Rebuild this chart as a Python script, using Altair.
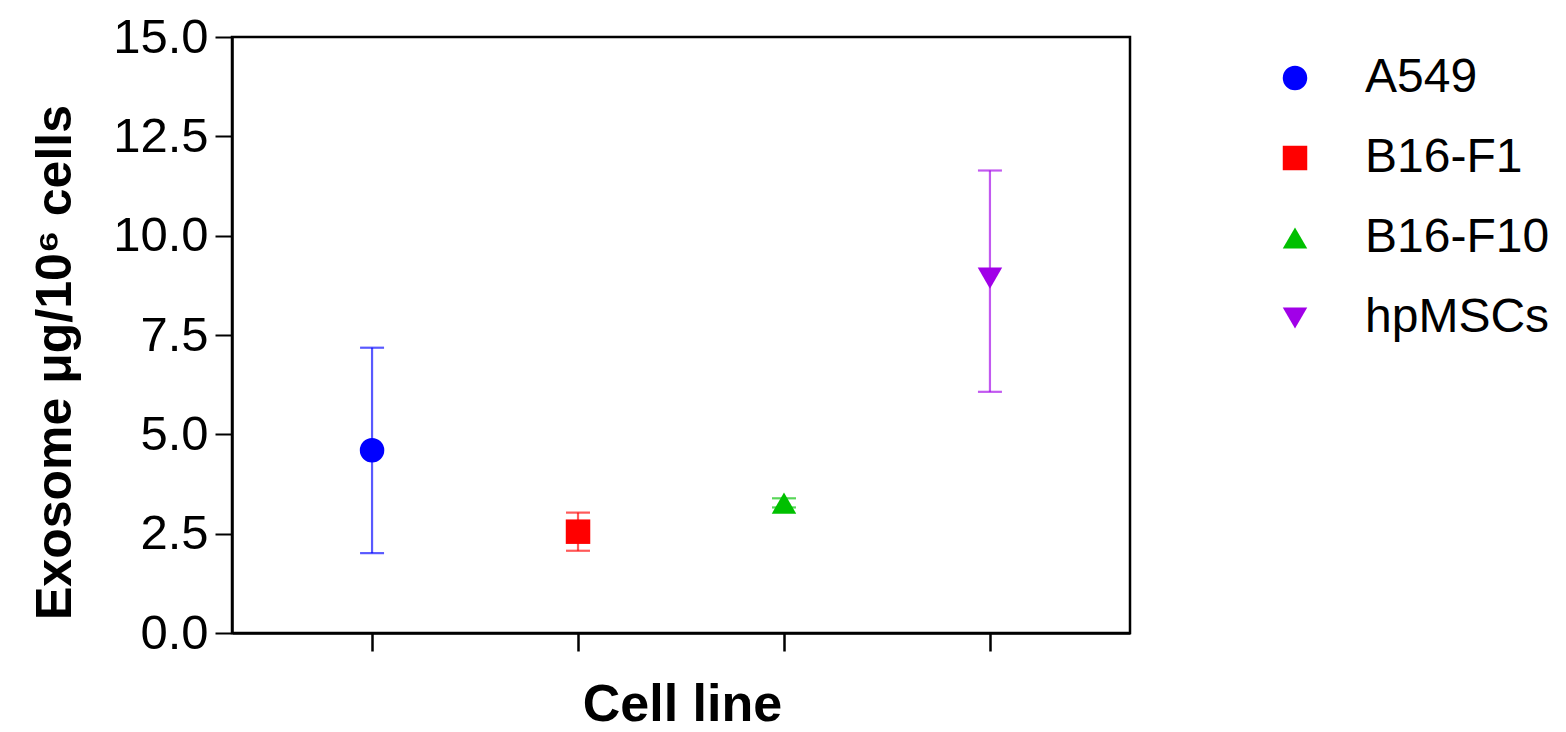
import altair as alt
import pandas as pd

cells = ["A549", "B16-F1", "B16-F10", "hpMSCs"]
means = [4.60, 2.55, 3.27, 8.93]
lows = [2.01, 2.07, 3.16, 6.07]
highs = [7.18, 3.03, 3.39, 11.64]
colors = ["#0000FF", "#FF0000", "#00C000", "#A100E8"]
shapes = ["circle", "square", "triangle-up", "triangle-down"]
y_ticks = [0, 2.5, 5, 7.5, 10, 12.5, 15]

df = pd.DataFrame({"cell": cells, "mean": means, "lo": lows, "hi": highs})

FONT = "Liberation Sans"

x_enc = alt.X(
    "cell:N",
    sort=cells,
    scale=alt.Scale(type="point", padding=0.68),
    axis=alt.Axis(
        labels=False,
        title="Cell line",
        titleFont=FONT,
        titleFontSize=52,
        titleFontWeight="bold",
        titleColor="black",
        titleX=450,
        titleY=87,
        titleBaseline="alphabetic",
        titleAlign="center",
        tickSize=18,
        tickWidth=2.5,
        tickColor="black",
        domainColor="black",
        domainWidth=2.5,
        grid=False,
    ),
)

y_scale = alt.Scale(domain=[0, 15], nice=False, zero=True)

color_enc = alt.Color(
    "cell:N",
    sort=cells,
    scale=alt.Scale(domain=cells, range=colors),
    legend=alt.Legend(
        title=None,
        orient="none",
        legendX=1039,
        legendY=17,
        padding=0,
        labelFont=FONT,
        labelFontSize=48,
        labelColor="black",
        labelOffset=46,
        labelLimit=400,
        rowPadding=32,
        symbolSize=600,
        symbolStrokeWidth=0,
        symbolOpacity=1,
    ),
)
shape_enc = alt.Shape(
    "cell:N",
    sort=cells,
    scale=alt.Scale(domain=cells, range=shapes),
)

base = alt.Chart(df)

rules = base.mark_rule(strokeWidth=2.2, opacity=0.65).encode(
    x=x_enc,
    y=alt.Y("lo:Q", scale=y_scale),
    y2="hi:Q",
    color=color_enc,
)

cap_lo = base.mark_tick(size=24, thickness=2.2, opacity=0.65).encode(
    x=x_enc,
    y=alt.Y("lo:Q", scale=y_scale),
    color=color_enc,
)
cap_hi = base.mark_tick(size=24, thickness=2.2, opacity=0.65).encode(
    x=x_enc,
    y=alt.Y("hi:Q", scale=y_scale),
    color=color_enc,
)

points = base.mark_point(filled=True, size=600, opacity=1, strokeWidth=0).encode(
    x=x_enc,
    y=alt.Y(
        "mean:Q",
        scale=y_scale,
        axis=alt.Axis(
            values=y_ticks,
            format=".1f",
            title="Exosome μg/10⁶ cells",
            titleFont=FONT,
            titleFontSize=50,
            titleFontWeight="bold",
            titleColor="black",
            titleAngle=270,
            titleX=-162,
            titleY=325,
            titleAlign="center",
            titleBaseline="alphabetic",
            labelFont=FONT,
            labelFontSize=49,
            labelColor="black",
            labelPadding=7,
            tickSize=17,
            tickWidth=2,
            tickColor="black",
            domainColor="black",
            domainWidth=2.5,
            grid=False,
        ),
    ),
    color=color_enc,
    shape=shape_enc,
)

chart = (
    alt.layer(rules, cap_lo, cap_hi, points)
    .properties(
        width=898,
        height=596,
        autosize=alt.AutoSizeParams(type="none"),
        padding={"left": 224, "top": 29, "right": 428, "bottom": 91},
    )
    .configure(background="white")
    .configure_view(stroke="black", strokeWidth=2.5)
)

chart.save("out.html", embed_options={"renderer": "svg", "actions": False})
